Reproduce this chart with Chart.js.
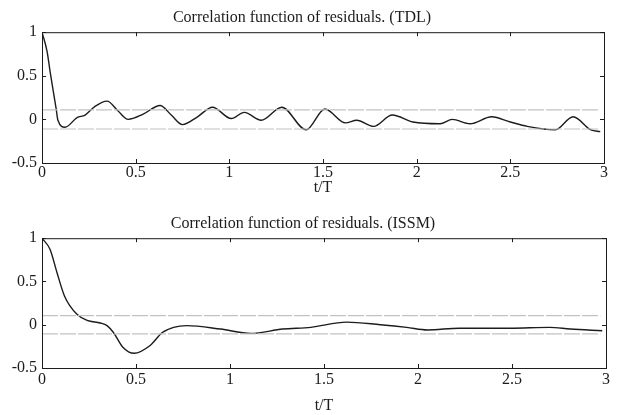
<!DOCTYPE html>
<html>
<head>
<meta charset="utf-8">
<script src="https://cdn.jsdelivr.net/npm/chart.js@4.4.0/dist/chart.umd.min.js"></script>
<style>
  html, body { margin: 0; padding: 0; background: #fff; }
  .pane { position: absolute; left: 0; width: 618px; }
</style>
</head>
<body>
<div class="pane" style="top:0;height:205px"><canvas id="tdl" width="618" height="205"></canvas></div>
<div class="pane" style="top:205px;height:210px"><canvas id="issm" width="618" height="210"></canvas></div>
<script>
// residual correlation, TDL model
const tdlT = [0, 0.027, 0.046, 0.075, 0.085, 0.123, 0.187, 0.23, 0.283, 0.347, 0.405, 0.46, 0.54, 0.63, 0.69, 0.75, 0.83, 0.91,
    1.01, 1.08, 1.17, 1.28, 1.41, 1.51, 1.62, 1.68, 1.77, 1.87, 1.98, 2.125, 2.19, 2.285, 2.40, 2.50, 2.59, 2.74, 2.835, 2.93, 2.98];
const tdlR = [1, 0.78, 0.51, 0.13, -0.01, -0.09, 0.02, 0.05, 0.15, 0.21, 0.10, 0.0, 0.06, 0.16, 0.05, -0.06, 0.03, 0.14,
    0.01, 0.08, -0.01, 0.14, -0.12, 0.12, -0.04, -0.01, -0.08, 0.05, -0.03, -0.05, 0.0, -0.05, 0.03, -0.03, -0.08, -0.12, 0.03, -0.12, -0.14];

// residual correlation, ISSM model
const issmT = [0, 0.043, 0.08, 0.12, 0.186, 0.24, 0.31, 0.346, 0.38, 0.43, 0.49, 0.575, 0.64, 0.70, 0.77, 0.95,
    1.11, 1.28, 1.43, 1.62, 1.80, 1.94, 2.05, 2.22, 2.49, 2.70, 2.81, 2.98];
const issmR = [1, 0.87, 0.6, 0.33, 0.12, 0.05, 0.02, -0.01, -0.09, -0.26, -0.33, -0.24, -0.09, -0.03, -0.01, -0.05,
    -0.10, -0.05, -0.03, 0.03, 0.0, -0.03, -0.06, -0.04, -0.04, -0.03, -0.05, -0.07];

// confidence bounds (+/-)
const boundT = [0, 2.97];
const tdlBound = 0.11;
const issmBound = 0.105;

const xTicks = [0, 0.5, 1, 1.5, 2, 2.5, 3];
const yTicks = [-0.5, 0, 0.5, 1];

const serif = 'Liberation Serif, Times New Roman, serif';
const ink = '#1c1c1c';

// matlab-ish box with inward ticks on all four sides
const frame = {
    id: 'frame',
    afterDatasetsDraw(chart) {
        const { ctx, chartArea: a, scales: { x, y } } = chart;
        ctx.save();
        ctx.strokeStyle = ink;
        ctx.lineWidth = 1;
        ctx.strokeRect(a.left + 0.5, a.top + 0.5, a.right - a.left, a.bottom - a.top);
        ctx.beginPath();
        x.ticks.forEach((t) => {
            const px = Math.round(x.getPixelForValue(t.value)) + 0.5;
            ctx.moveTo(px, a.top); ctx.lineTo(px, a.top + 4);
            ctx.moveTo(px, a.bottom); ctx.lineTo(px, a.bottom - 4);
        });
        y.ticks.forEach((t) => {
            const py = Math.round(y.getPixelForValue(t.value)) + 0.5;
            ctx.moveTo(a.left, py); ctx.lineTo(a.left + 4, py);
            ctx.moveTo(a.right, py); ctx.lineTo(a.right - 4, py);
        });
        ctx.stroke();
        ctx.restore();
    },
};

function boundLine(v) {
    return {
        data: boundT.map((t) => ({ x: t, y: v })),
        borderColor: '#c2c2c2',
        borderWidth: 1.2,
        borderDash: [16, 2],
        pointRadius: 0,
        tension: 0,
    };
}

const plain = (v) => String(v);

function makeChart(id, title, ts, rs, bound, cfg) {
    new Chart(document.getElementById(id), {
        type: 'line',
        data: {
            datasets: [
                boundLine(bound),
                boundLine(-bound),
                {
                    data: ts.map((t, i) => ({ x: t, y: rs[i] })),
                    borderColor: ink,
                    borderWidth: 1.4,
                    pointRadius: 0,
                    cubicInterpolationMode: 'monotone',
                },
            ],
        },
        options: {
            responsive: false,
            animation: false,
            layout: { padding: { left: 0, right: cfg.right, top: 0, bottom: 0 } },
            plugins: {
                legend: { display: false },
                tooltip: { enabled: false },
                title: {
                    display: true,
                    text: title,
                    color: ink,
                    font: { family: serif, size: 16, weight: 'normal' },
                    padding: { top: cfg.titleTop, bottom: cfg.titleBottom },
                },
            },
            scales: {
                x: {
                    type: 'linear',
                    min: 0,
                    max: 3,
                    afterBuildTicks: (s) => { s.ticks = xTicks.map((v) => ({ value: v })); },
                    afterFit: (s) => { s.height = cfg.xHeight; },
                    grid: { display: false, drawTicks: false },
                    border: { display: false },
                    ticks: { color: ink, padding: cfg.xPad, callback: plain, font: { family: serif, size: 16 } },
                    title: {
                        display: true,
                        text: 't/T',
                        color: ink,
                        font: { family: serif, size: 16 },
                        padding: { top: 0, bottom: cfg.labelBottom },
                    },
                },
                y: {
                    min: -0.5,
                    max: 1,
                    afterBuildTicks: (s) => { s.ticks = yTicks.map((v) => ({ value: v })); },
                    afterFit: (s) => { s.width = 42; },
                    grid: { display: false, drawTicks: false },
                    border: { display: false },
                    ticks: { color: ink, padding: 5, callback: plain, font: { family: serif, size: 16 } },
                },
            },
        },
        plugins: [frame],
    });
}

makeChart('tdl', 'Correlation function of residuals. (TDL)', tdlT, tdlR, tdlBound,
    { right: 14, titleTop: 8, titleBottom: 5, xHeight: 42, xPad: 0, labelBottom: 8 });
makeChart('issm', 'Correlation function of residuals. (ISSM)', issmT, issmR, issmBound,
    { right: 12, titleTop: 9, titleBottom: 5, xHeight: 47, xPad: 2, labelBottom: 0 });
</script>
</body>
</html>
